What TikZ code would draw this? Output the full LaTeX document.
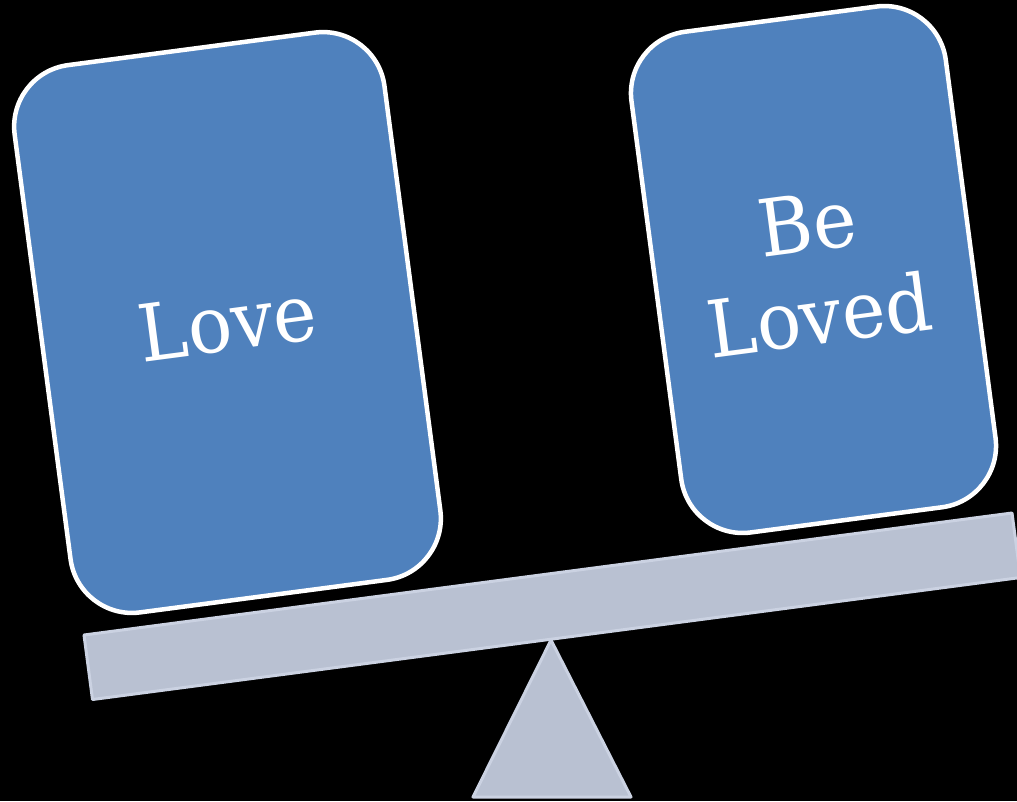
\documentclass[tikz,border=0pt]{standalone}
\usepackage{fontspec}
\setmainfont{DejaVu Serif}[FakeStretch=0.93]
\definecolor{boxblue}{RGB}{79,129,189}
\definecolor{beamfill}{RGB}{185,193,210}
\definecolor{beamline}{RGB}{203,210,226}
\begin{document}
\begin{tikzpicture}[x=1pt,y=-1pt,
  card/.style={rectangle, draw=white, line width=4.5pt, fill=boxblue,
    rounded corners=62pt, inner sep=0pt, text=white,
    font=\fontsize{79}{93}\selectfont, align=center, rotate=7.5},
  plank/.style={fill=beamfill, draw=beamline, line width=3pt, line join=round}]
\useasboundingbox (0,0) rectangle (1017,801);
\fill[black] (0,0) rectangle (1017,801);
% fulcrum and beam
\draw[plank] (551,640) -- (473,797) -- (631,797) -- cycle;
\draw[plank] (84,635) -- (1012,513) -- (1020.5,577.5) -- (92.5,699.5) -- cycle;
% cards
\node[card, minimum width=373pt, minimum height=552pt] (love) at (227.5,322.5) {Love};
\node[card, minimum width=317pt, minimum height=505pt] (beloved) at (813.5,269.5) {Be\\Loved};
\end{tikzpicture}
\end{document}
